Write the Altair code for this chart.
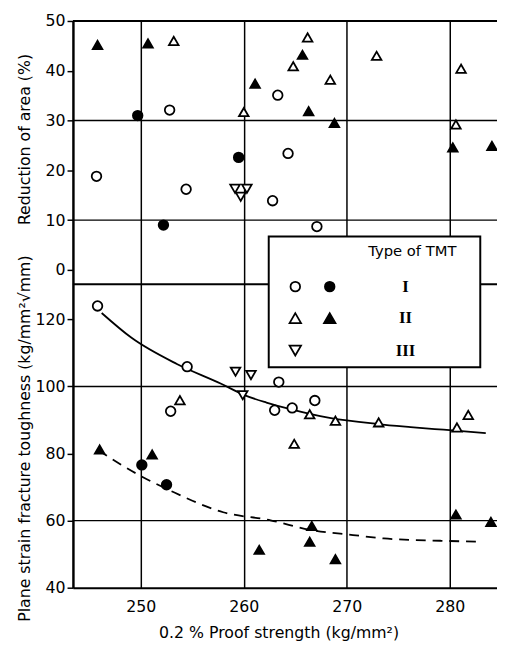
import altair as alt
import pandas as pd

# ---------------- data ----------------
SERIES = ["I-open", "I-solid", "II-open", "II-solid", "III-open"]

# Upper panel: reduction of area (%)
RA_X = [245.8, 250.7, 253.2, 245.7, 249.7, 252.8, 254.4, 252.2,
        266.2, 265.7, 264.8, 268.4, 261.1, 263.3, 260.0, 266.3, 268.8,
        259.5, 264.3, 259.15, 260.3, 259.7, 262.8, 267.1,
        272.9, 281.1, 280.6, 280.3, 284.1]
RA_Y = [45.2, 45.5, 46.0, 18.8, 31.0, 32.1, 16.2, 9.0,
        46.7, 43.2, 40.9, 38.2, 37.4, 35.1, 31.7, 31.9, 29.5,
        22.6, 23.4, 16.3, 16.3, 14.7, 13.9, 8.7,
        43.0, 40.4, 29.2, 24.6, 24.9]
RA_S = ["II-solid", "II-solid", "II-open", "I-open", "I-solid", "I-open", "I-open", "I-solid",
        "II-open", "II-solid", "II-open", "II-open", "II-solid", "I-open", "II-open", "II-solid", "II-solid",
        "I-solid", "I-open", "III-open", "III-open", "III-open", "I-open", "I-open",
        "II-open", "II-open", "II-open", "II-solid", "II-solid"]

# Lower panel: plane strain fracture toughness
K_X = [245.8, 254.5, 259.2, 260.7, 259.9, 252.9, 253.8, 246.0, 250.1, 251.1, 252.5,
       263.4, 263.0, 264.7, 266.9, 266.4, 268.9, 273.1, 280.7, 281.8, 264.9,
       261.5, 266.6, 266.4, 268.9, 280.6, 284.0]
K_Y = [124.0, 105.9, 104.4, 103.4, 97.4, 92.6, 95.9, 81.2, 76.6, 79.7, 70.7,
       101.3, 92.9, 93.6, 95.8, 91.7, 89.8, 89.3, 87.8, 91.5, 82.9,
       51.3, 58.4, 53.7, 48.5, 61.8, 59.6]
K_S = ["I-open", "I-open", "III-open", "III-open", "III-open", "I-open", "II-open", "II-solid", "I-solid", "II-solid", "I-solid",
       "I-open", "I-open", "I-open", "I-open", "II-open", "II-open", "II-open", "II-open", "II-open", "II-open",
       "II-solid", "II-solid", "II-solid", "II-solid", "II-solid", "II-solid"]

# Fitted curves
SOLID_X = [246.2, 249.1, 253.5, 257.8, 260.0, 262.2, 264.7, 268.2, 273.0, 276.2, 279.4, 283.5]
SOLID_Y = [121.9, 114.5, 106.7, 100.8, 97.5, 95.2, 93.1, 90.7, 88.8, 87.9, 87.1, 86.1]
DASH_X = [245.9, 249.7, 252.9, 258.0, 262.6, 266.5, 270.6, 273.6, 279.1, 283.2]
DASH_Y = [80.9, 73.8, 68.9, 62.5, 60.1, 57.2, 55.7, 54.7, 54.0, 53.7]

X_TICKS = [250, 260, 270, 280]
TOP_TICKS = [0, 10, 20, 30, 40, 50]
BOT_TICKS = [40, 60, 80, 100, 120]
TOP_GRID = [10, 30]
BOT_GRID = [60, 100]

LEGEND_TITLE = "Type of TMT"
LEGEND_ROWS = ["I", "II", "III"]

# ---------------- layout ----------------
W, H = 431, 576
X_DOMAIN = [243.41, 284.59]
TOP_DOMAIN = [-63.83, 50]
BOT_DOMAIN = [40, 208.96]
FONT = "DejaVu Sans"
SHAPES = ["circle", "circle", "triangle-up", "triangle-up", "triangle-down"]
FILLS = ["white", "black", "white", "black", "white"]
SIZES = [95, 95, 135, 135, 135]

top_df = pd.DataFrame({"x": RA_X, "y": RA_Y, "series": RA_S})
bot_df = pd.DataFrame({"x": K_X, "y": K_Y, "series": K_S})
solid_df = pd.DataFrame({"x": SOLID_X, "y": SOLID_Y})
dash_df = pd.DataFrame({"x": DASH_X, "y": DASH_Y})
one = pd.DataFrame({"a": [0]})

x_enc = alt.X("x:Q", scale=alt.Scale(domain=X_DOMAIN, nice=False, zero=False),
              axis=alt.Axis(values=X_TICKS, grid=True, gridColor="black", gridWidth=1.5,
                            gridOpacity=1, ticks=False, labelPadding=11, labelFontSize=16,
                            labelFont=FONT, labelColor="black", labelFlush=False,
                            domainColor="black", domainWidth=2,
                            title="0.2 % Proof strength (kg/mm²)", titleFont=FONT,
                            titleFontSize=16, titleFontWeight="normal", titleColor="black",
                            titleX=209, titleY=46, titleAlign="center", titleBaseline="middle"))

def y_axis(values, title, title_y):
    return alt.Axis(values=values, orient="left", grid=False, tickSize=6, tickWidth=1.5,
                    tickColor="black", labelPadding=2, labelFontSize=16, labelFont=FONT,
                    labelColor="black", domainColor="black", domainWidth=2, labelFlush=False,
                    title=title, titleFont=FONT, titleFontSize=16, titleFontWeight="normal",
                    titleColor="black", titleX=-49, titleY=title_y, titleAngle=270,
                    titleAlign="center", titleBaseline="middle")

y_top = alt.Y("y:Q", scale=alt.Scale(domain=TOP_DOMAIN, nice=False, zero=False),
              axis=y_axis(TOP_TICKS, "Reduction of area (%)", 120))
y_bot = alt.Y("y:Q", scale=alt.Scale(domain=BOT_DOMAIN, nice=False, zero=False),
              axis=y_axis(BOT_TICKS, "Plane strain fracture toughness (kg/mm²√mm)", 424))

shape_enc = alt.Shape("series:N", scale=alt.Scale(domain=SERIES, range=SHAPES), legend=None)
fill_enc = alt.Fill("series:N", scale=alt.Scale(domain=SERIES, range=FILLS), legend=None)
size_enc = alt.Size("series:N", scale=alt.Scale(domain=SERIES, range=SIZES), legend=None)

def points(df, y):
    return alt.Chart(df).mark_point(filled=True, stroke="black", strokeWidth=1.8, opacity=1).encode(
        x=x_enc, y=y, shape=shape_enc, fill=fill_enc, size=size_enc)

top_grid = alt.Chart(pd.DataFrame({"y": TOP_GRID})).mark_rule(color="black", strokeWidth=1.5).encode(y=y_top)
bot_grid = alt.Chart(pd.DataFrame({"y": BOT_GRID})).mark_rule(color="black", strokeWidth=1.5).encode(y=y_bot)

solid = alt.Chart(solid_df).mark_line(color="black", strokeWidth=1.8, interpolate="monotone").encode(x=x_enc, y=y_bot)
dashed = alt.Chart(dash_df).mark_line(color="black", strokeWidth=1.8, interpolate="monotone",
                                      strokeDash=[10, 7]).encode(x=x_enc, y=y_bot)

top = alt.layer(top_grid, points(top_df, y_top))
bot = alt.layer(bot_grid, solid, dashed, points(bot_df, y_bot))

# frame: top border and panel divider
frame_top = alt.Chart(one).mark_rule(color="black", strokeWidth=2).encode(
    x=alt.value(0), x2=alt.value(W), y=alt.value(0))
divider = alt.Chart(one).mark_rule(color="black", strokeWidth=2).encode(
    x=alt.value(0), x2=alt.value(W), y=alt.value(267.5))

# custom legend
LX0, LX1, LY0, LY1 = 199, 414, 219, 352
ROW_Y = [270, 302, 335]
box = alt.Chart(one).mark_rect(fill="white", stroke="black", strokeWidth=2).encode(
    x=alt.value(LX0), x2=alt.value(LX1), y=alt.value(LY0), y2=alt.value(LY1))
ltitle = alt.Chart(one).mark_text(font=FONT, fontSize=15, align="center", baseline="middle",
                                  color="black").encode(
    x=alt.value(345), y=alt.value(234), text=alt.value(LEGEND_TITLE))

legend_layers = [box, ltitle]
sym_specs = [  # (series index, column x, row)
    (0, 226, 0), (1, 261, 0), (2, 226, 1), (3, 261, 1), (4, 226, 2)]
for si, cx, row in sym_specs:
    legend_layers.append(
        alt.Chart(one).mark_point(filled=True, shape=SHAPES[si], fill=FILLS[si], stroke="black",
                                  strokeWidth=1.8, size=SIZES[si], opacity=1).encode(
            x=alt.value(cx), y=alt.value(ROW_Y[row])))
for i, lab in enumerate(LEGEND_ROWS):
    legend_layers.append(
        alt.Chart(one).mark_text(font="Liberation Serif", fontSize=17, fontWeight="bold",
                                 align="center", baseline="middle", color="black").encode(
            x=alt.value(338), y=alt.value(ROW_Y[i]), text=alt.value(lab)))

chart = alt.layer(top, bot, frame_top, divider, *legend_layers).resolve_scale(
    y="independent"
).properties(
    width=W, height=H,
    autosize=alt.AutoSizeParams(type="none"),
    padding={"left": 66, "top": 8, "right": 0, "bottom": 50},
    background="white",
).configure_view(stroke=None)

chart.save("out.html", embed_options={"renderer": "svg", "actions": False})
